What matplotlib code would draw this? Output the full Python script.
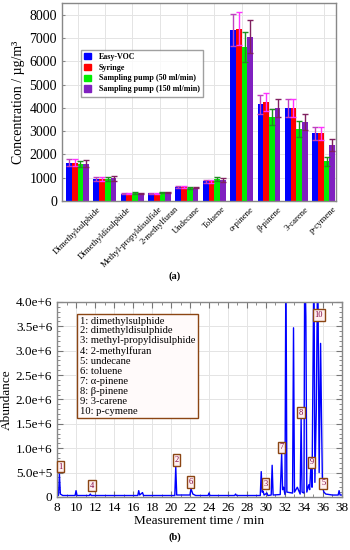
import matplotlib
matplotlib.use('Agg')
import matplotlib.pyplot as plt
import numpy as np
from matplotlib.patches import Patch
from matplotlib.ticker import MultipleLocator, FixedLocator, FixedFormatter

plt.rcParams['font.family'] = ['Liberation Serif', 'DejaVu Serif']

# ---------------- data: panel (a) ----------------
compounds = ['Dimethylsulphide', 'Dimethyldisulphide', 'Methyl-propyldisulfide',
             '2-methylfuran', 'Undecane', 'Toluene', 'α-pinene', 'β-pinene',
             '3-carene', 'p-cymene']
series = ['Easy-VOC', 'Syringe', 'Sampling pump (50 ml/min)', 'Sampling pump (150 ml/min)']
easy_voc = [1650, 950, 320, 330, 600, 850, 7350, 4150, 4000, 2900]
syringe = [1650, 950, 320, 320, 600, 850, 7400, 4250, 4000, 2900]
pump50 = [1580, 950, 340, 360, 570, 950, 6600, 3600, 3100, 1700]
pump150 = [1600, 970, 330, 370, 580, 900, 7050, 4000, 3400, 2400]
easy_voc_err = [150, 100, 30, 30, 40, 70, 700, 400, 380, 280]
syringe_err = [150, 100, 30, 30, 40, 70, 720, 400, 380, 280]
pump50_err = [130, 100, 30, 30, 40, 80, 650, 350, 330, 180]
pump150_err = [150, 100, 30, 30, 30, 80, 700, 380, 350, 250]
bar_colors = ['#0000ff', '#ff0000', '#00ee00', '#8020c0']
err_colors = ['#c040c0', '#ff33ff', '#209020', '#802060']
y_ticks_a = [0, 1000, 2000, 3000, 4000, 5000, 6000, 7000, 8000]

# ---------------- data: panel (b) ----------------
time_min = [8.0, 8.15, 8.25, 8.35, 8.6, 9.9, 10.0, 10.1, 11.4, 11.5, 11.6, 16.5, 16.6, 16.7,
            17.0, 17.1, 20.4, 20.5, 20.6, 22.0, 22.1, 22.3, 22.6, 23.9, 24.0, 24.1, 26.7,
            26.8, 26.9, 29.4, 29.5, 29.6, 29.7, 29.8, 30.1, 30.2, 30.55, 30.65, 30.75, 31.5,
            31.65, 31.75, 31.85, 32.0, 32.1, 32.2, 32.8, 32.9, 33.0, 33.3, 33.6, 33.7, 33.8,
            34.0, 34.08, 34.2, 34.3, 34.5, 34.6, 34.75, 34.85, 35.05, 35.15, 35.3, 35.45,
            35.6, 35.75, 35.85, 35.95, 36.1, 36.3, 37.0, 37.6, 37.7, 37.8, 38.0]
abundance = [6e4, 3e4, 4.7e5, 6e4, 3e4, 3e4, 1.3e5, 3e4, 3e4, 6e4, 3e4, 3e4, 1.3e5, 4e4,
             9e4, 3e4, 3e4, 6.2e5, 4e4, 4e4, 1.7e5, 6e4, 3e4, 3e4, 8e4, 3e4, 3e4,
             6e4, 3e4, 3e4, 5.2e5, 1e5, 1.2e5, 4e4, 8e4, 3e4, 4e4, 6.5e5, 4e4, 5e4,
             9e5, 1.5e5, 2e5, 5e4, 5e6, 1e5, 8e4, 3.47e6, 1e5, 2e5, 6e4, 1.6e6, 1e5,
             8e4, 5e6, 3.7e6, 1e5, 2.5e5, 1.5e5, 7e5, 2e5, 5e6, 3e5, 1.8e6, 5e6,
             5e5, 3.15e6, 1.6e6, 2e5, 1e5, 6e4, 4e4, 4e4, 1.3e5, 4e4, 4e4]
peak_labels = ['1', '4', '2', '6', '3', '7', '8', '9', '5', '10']
peak_label_x = [8.35, 11.65, 20.6, 22.07, 29.97, 31.65, 33.68, 34.8, 36.03, 35.58]
peak_label_y = [6.2e5, 2.3e5, 7.6e5, 3.1e5, 2.7e5, 1.02e6, 1.73e6, 7.1e5, 2.8e5, 3.73e6]
legend_b = ['1: dimethylsulphide', '2: dimethyldisulphide', '3: methyl-propyldisulphide',
            '4: 2-methylfuran', '5: undecane', '6: toluene', '7: α-pinene', '8: β-pinene',
            '9: 3-carene', '10: p-cymene']
y_ticks_b = [0, 5e5, 1e6, 1.5e6, 2e6, 2.5e6, 3e6, 3.5e6, 4e6]
y_tick_labels_b = ['0', '5.0e+5', '1.0e+6', '1.5e+6', '2.0e+6', '2.5e+6', '3.0e+6', '3.5e+6', '4.0e+6']
x_ticks_b = list(range(8, 39, 2))

fig = plt.figure(figsize=(3.5, 5.5), dpi=100)

# ---------------- panel (a) ----------------
ax = fig.add_axes([0.177, 0.6345, 0.783, 0.36])
x = np.arange(len(compounds))
w = 0.21
vals = [easy_voc, syringe, pump50, pump150]
errs = [easy_voc_err, syringe_err, pump50_err, pump150_err]
for i in range(4):
    xi = x + (i - 1.5) * w
    ax.bar(xi, vals[i], width=w, color=bar_colors[i], zorder=2)
    ax.errorbar(xi, vals[i], yerr=errs[i], fmt='none', ecolor=err_colors[i],
                elinewidth=1, capsize=2.5, capthick=1, zorder=3)
ax.set_xlim(-0.57, 9.45)
ax.set_ylim(0, 8500)
ax.set_yticks(y_ticks_a)
ax.set_xticks(x)
ax.set_xticklabels(compounds, rotation=45, ha='center', va='top', fontsize=6.3)
ax.tick_params(axis='x', length=0, pad=3)
ax.tick_params(axis='y', labelsize=10, length=2, direction='in', color='#888888')
ax.grid(True, color='#e4e4e4', linewidth=0.7, zorder=0)
ax.set_axisbelow(True)
for s in ax.spines.values():
    s.set_color('#888888')
    s.set_linewidth(1)
ax.set_ylabel('Concentration / µg/m³', fontsize=10, labelpad=3)
handles = [Patch(facecolor=c, edgecolor=c) for c in bar_colors]
leg = ax.legend(handles, series, loc='upper left', bbox_to_anchor=(0.055, 0.785),
                frameon=True, fancybox=False, edgecolor='#888888',
                handlelength=0.8, handleheight=0.8, handletextpad=1.0,
                labelspacing=0.35, borderpad=0.4, prop={'weight': 'bold', 'size': 5.8})
leg.get_frame().set_linewidth(1)

fig.text(0.5, 0.498, '(a)', ha='center', va='center', fontsize=7.5, fontweight='bold')

# ---------------- panel (b) ----------------
bx = fig.add_axes([0.163, 0.0964, 0.814, 0.3546])
bx.plot(time_min, abundance, color='#0000ff', linewidth=1, zorder=2)
bx.set_xlim(8, 38)
bx.set_ylim(0, 4e6)
bx.xaxis.set_major_locator(FixedLocator(x_ticks_b))
bx.xaxis.set_minor_locator(MultipleLocator(1))
bx.yaxis.set_major_locator(FixedLocator(y_ticks_b))
bx.yaxis.set_major_formatter(FixedFormatter(y_tick_labels_b))
bx.yaxis.set_minor_locator(MultipleLocator(1e5))
bx.tick_params(which='both', direction='in', top=True, right=True, color='#777777')
bx.tick_params(which='major', length=4, labelsize=9.5)
bx.tick_params(which='minor', length=2)
bx.grid(True, which='major', color='#e4e4e4', linewidth=0.7, zorder=0)
for s in bx.spines.values():
    s.set_color('#888888')
    s.set_linewidth(1)
bx.set_xlabel('Measurement time / min', fontsize=9.5, labelpad=1)
bx.set_ylabel('Abundance', fontsize=9.5, labelpad=2)

for lab, px, py in zip(peak_labels, peak_label_x, peak_label_y):
    bx.text(px, py, lab, ha='center', va='center', fontsize=6, color='#800040', zorder=4,
            bbox=dict(boxstyle='square,pad=0.2', facecolor='#fff0f0', edgecolor='#8b4513',
                      linewidth=1))

bx.text(0.08, 0.925, '\n'.join(legend_b), transform=bx.transAxes, ha='left', va='top',
        fontsize=7.6, linespacing=1.13, zorder=5,
        bbox=dict(boxstyle='square,pad=0.25', facecolor='#fffafa', edgecolor='#8b4513',
                  linewidth=1))

fig.text(0.5, 0.024, '(b)', ha='center', va='center', fontsize=7.5, fontweight='bold')

fig.savefig('out.png', dpi=100)
